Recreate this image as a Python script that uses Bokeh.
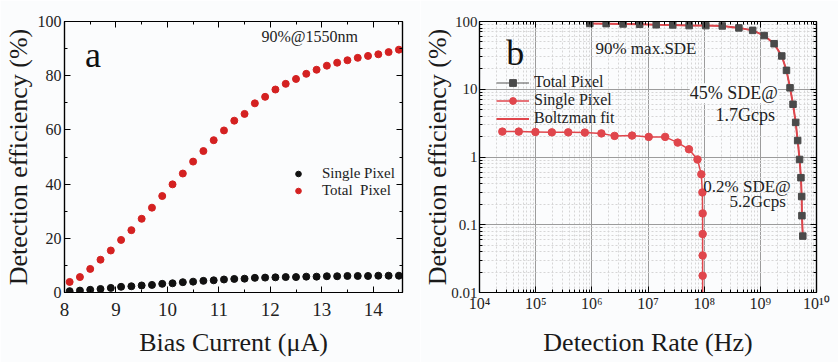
from bokeh.plotting import figure
from bokeh.layouts import row
from bokeh.models import (Range1d, LinearAxis, LogAxis, Label, Legend, LegendItem,
                          CustomJSTickFormatter, SingleIntervalTicker, FixedTicker)
from bokeh.embed import file_html
from bokeh.resources import INLINE

# ---------------- data: panel a ----------------
bias_current = [8.1, 8.3, 8.5, 8.7, 8.9, 9.1, 9.3, 9.5, 9.7, 9.9, 10.1, 10.3, 10.5, 10.7,
                10.9, 11.1, 11.3, 11.5, 11.7, 11.9, 12.1, 12.3, 12.5, 12.7, 12.9, 13.1,
                13.3, 13.5, 13.7, 13.9, 14.1, 14.3, 14.5]
total_pixel_de = [3.9, 5.7, 8.7, 12.1, 15.5, 19.4, 23.0, 27.2, 31.3, 35.6, 39.9, 43.9, 48.3,
                  52.2, 56.2, 59.8, 63.4, 65.9, 69.8, 72.2, 74.9, 77.0, 78.8, 80.7, 82.2,
                  83.7, 84.8, 85.7, 86.6, 87.3, 87.9, 88.7, 89.6]
single_pixel_de = [0.5, 0.7, 1.0, 1.3, 1.7, 2.1, 2.3, 2.6, 2.8, 3.2, 3.4, 3.8, 4.0, 4.3,
                   4.5, 4.8, 5.0, 5.1, 5.4, 5.5, 5.6, 5.7, 5.7, 5.85, 5.85, 6.0, 6.0, 6.1,
                   6.1, 6.1, 6.2, 6.2, 6.2]

# ---------------- data: panel b ----------------
total_rate = [9.2e5, 1.8e6, 3.6e6, 7.1e6, 1.4e7, 2.76e7, 5.4e7, 1.07e8, 2.1e8, 4.15e8,
              7.3e8, 1.17e9, 1.76e9, 2.41e9, 2.92e9, 3.38e9, 3.82e9, 4.26e9, 4.62e9,
              5.0e9, 5.28e9, 5.45e9, 5.5e9, 5.7e9]
total_de = [93.5, 93.0, 92.0, 91.0, 89.5, 89.0, 87.0, 87.0, 86.0, 80.5, 74.0, 62.0, 47.0,
            31.0, 19.0, 10.5, 6.0, 3.24, 1.75, 0.92, 0.495, 0.261, 0.136, 0.068]
single_rate = [2.55e4, 5.0e4, 9.9e4, 1.94e5, 3.8e5, 7.5e5, 1.48e6, 2.54e6, 5.2e6, 1.03e7,
               2.02e7, 3.38e7, 5.36e7, 7.6e7, 8.9e7, 9.3e7, 9.4e7, 9.4e7, 9.4e7, 9.4e7]
single_de = [2.37, 2.37, 2.34, 2.31, 2.31, 2.29, 2.23, 2.05, 2.07, 1.98, 1.98, 1.63, 1.30,
             0.92, 0.555, 0.30, 0.147, 0.073, 0.0352, 0.0177]
single_fit_rate = single_rate + [9.4e7]
single_fit_de = single_de + [0.005]

x_ticks_a = [8, 9, 10, 11, 12, 13, 14]
y_ticks_a = [0, 20, 40, 60, 80, 100]
x_ticks_b = [1e4, 1e5, 1e6, 1e7, 1e8, 1e9, 1e10]
y_ticks_b = [0.01, 0.1, 1, 10, 100]

FONT = "Liberation Serif"
BG = "#fbfcfd"
RED_A = "#d42121"
RED_B = "#e0464c"
SQ = "#4a4a4a"


def style_axis(ax, label_size):
    ax.axis_line_color = "black"
    ax.axis_line_width = 1.2
    ax.major_tick_in = 6
    ax.major_tick_out = 0
    ax.minor_tick_in = 3
    ax.minor_tick_out = 0
    ax.major_tick_line_color = "black"
    ax.minor_tick_line_color = "black"
    ax.major_label_text_font = FONT
    ax.major_label_text_font_size = label_size
    ax.major_label_text_color = "#222222"
    ax.axis_label_text_font = FONT
    ax.axis_label_text_font_style = "normal"
    ax.axis_label_text_font_size = "26px"
    ax.axis_label_text_color = "#1a1a1a"


blank = CustomJSTickFormatter(code="return '';")

# ================= panel a =================
p1 = figure(width=420, height=362, x_range=Range1d(8, 14.57), y_range=Range1d(0, 100),
            output_backend="svg", toolbar_location=None,
            min_border_left=64, min_border_right=18, min_border_top=19, min_border_bottom=70)
p1.background_fill_color = BG
p1.border_fill_color = BG
p1.outline_line_color = "black"
p1.outline_line_width = 1.2
p1.grid.visible = False

xt1 = SingleIntervalTicker(interval=1, num_minor_ticks=2)
yt1 = SingleIntervalTicker(interval=20, num_minor_ticks=2)
p1.xaxis.ticker = xt1
p1.yaxis.ticker = yt1
style_axis(p1.xaxis[0], "19px")
style_axis(p1.yaxis[0], "16px")
p1.xaxis.axis_label = "Bias Current (μA)"
p1.yaxis.axis_label = "Detection efficiency (%)"
p1.xaxis.major_label_standoff = 10
p1.yaxis.major_label_standoff = 3
p1.xaxis.axis_label_standoff = 9
p1.yaxis.axis_label_standoff = 2

top1 = LinearAxis(ticker=xt1, formatter=blank)
right1 = LinearAxis(ticker=yt1, formatter=blank)
style_axis(top1, "1px")
style_axis(right1, "1px")
top1.major_label_standoff = 0
right1.major_label_standoff = 0
p1.add_layout(top1, "above")
p1.add_layout(right1, "right")

r_single = p1.scatter(bias_current, single_pixel_de, size=7, color="#111111")
r_total = p1.scatter(bias_current, total_pixel_de, size=7, color=RED_A)

leg1 = Legend(items=[LegendItem(label="Single Pixel", renderers=[r_single]),
                     LegendItem(label="Total  Pixel", renderers=[r_total])],
              location=(227, 93), padding=0, margin=0, spacing=0,
              glyph_width=14, glyph_height=17, label_height=17, label_standoff=17,
              label_text_font=FONT, label_text_font_size="15px",
              label_text_color="#222222",
              border_line_color=None, background_fill_alpha=0)
p1.add_layout(leg1)

p1.add_layout(Label(x=8.4, y=87.5, text="a", text_font=FONT, text_font_size="36px",
                    text_color="#111111", text_baseline="alphabetic"))
p1.add_layout(Label(x=11.83, y=94.6, text="90%@1550nm", text_font=FONT,
                    text_font_size="16px", text_color="#222222",
                    text_baseline="alphabetic"))

# ================= panel b =================
p2 = figure(width=418, height=362, x_axis_type="log", y_axis_type="log",
            x_range=Range1d(1e4, 1e10), y_range=Range1d(0.01, 100),
            output_backend="svg", toolbar_location=None,
            min_border_left=56, min_border_right=22, min_border_top=21, min_border_bottom=68)
p2.background_fill_color = BG
p2.border_fill_color = BG
p2.outline_line_color = "black"
p2.outline_line_width = 1.2

x_minor = [m * d for d in x_ticks_b[:-1] for m in range(2, 10)]
y_minor = [m * d for d in y_ticks_b[:-1] for m in range(2, 10)]
xt2 = FixedTicker(ticks=x_ticks_b, minor_ticks=x_minor)
yt2 = FixedTicker(ticks=y_ticks_b, minor_ticks=y_minor)
p2.xaxis.ticker = xt2
p2.yaxis.ticker = yt2
style_axis(p2.xaxis[0], "16px")
style_axis(p2.yaxis[0], "15px")
p2.xaxis.formatter = CustomJSTickFormatter(code="""
const sup = {'0':'\u2070','1':'\u00b9','2':'\u00b2','3':'\u00b3','4':'\u2074','5':'\u2075',
             '6':'\u2076','7':'\u2077','8':'\u2078','9':'\u2079','-':'\u207b'};
const e = Math.round(Math.log10(tick));
return '10' + String(e).split('').map(c => sup[c]).join('');
""")
p2.yaxis.formatter = CustomJSTickFormatter(code="""
return tick < 1 ? tick.toString() : tick.toFixed(0);
""")
p2.xaxis.axis_label = "Detection Rate (Hz)"
p2.yaxis.axis_label = "Detection efficiency (%)"
p2.xaxis.major_label_standoff = 2
p2.yaxis.major_label_standoff = 2
p2.xaxis.axis_label_standoff = 13
p2.yaxis.axis_label_standoff = -4

top2 = LogAxis(ticker=xt2, formatter=blank)
right2 = LogAxis(ticker=yt2, formatter=blank)
style_axis(top2, "1px")
style_axis(right2, "1px")
top2.major_label_standoff = 0
right2.major_label_standoff = 0
p2.add_layout(top2, "above")
p2.add_layout(right2, "right")

p2.grid.grid_line_color = "#9c9c9c"
p2.grid.grid_line_width = 1
p2.grid.minor_grid_line_color = "#d6d6d6"
p2.grid.minor_grid_line_dash = "2 2"

r_tot_line = p2.line(total_rate, total_de, line_color="#555555", line_width=1.2)
r_fit = p2.line(total_rate, total_de, line_color=RED_B, line_width=2)
r_sgl_line = p2.line(single_fit_rate, single_fit_de, line_color=RED_B, line_width=1.5)
r_tot_pts = p2.scatter(total_rate, total_de, marker="square", size=6.5, color=SQ)
r_sgl_pts = p2.scatter(single_rate, single_de, marker="circle", size=7.5, color=RED_B)

leg2 = Legend(items=[LegendItem(label="Total Pixel", renderers=[r_tot_line, r_tot_pts]),
                     LegendItem(label="Single Pixel", renderers=[r_sgl_line, r_sgl_pts]),
                     LegendItem(label="Boltzman fit", renderers=[r_fit])],
              location=(17, 165), padding=0, margin=0, spacing=0,
              glyph_width=33, glyph_height=17, label_height=17, label_standoff=5,
              label_text_font=FONT, label_text_font_size="16px",
              label_text_line_height=1.0,
              label_text_color="#222222",
              border_line_color=None, background_fill_alpha=0)
p2.add_layout(leg2)

p2.add_layout(Label(x=3.0e4, y=34, text="b", text_font=FONT, text_font_size="36px",
                    text_color="#111111", text_baseline="alphabetic"))
p2.add_layout(Label(x=1.16e6, y=40, text="90% max.SDE", text_font=FONT,
                    text_font_size="17px", text_color="#222222", text_baseline="alphabetic"))
p2.add_layout(Label(x=10 ** 9.311, y=10 ** 0.94, text="45% SDE@", text_font=FONT,
                    text_font_size="18px", text_color="#222222", text_align="right",
                    text_baseline="alphabetic", background_fill_color=BG))
p2.add_layout(Label(x=10 ** 9.259, y=10 ** 0.62, text="1.7Gcps", text_font=FONT,
                    text_font_size="18px", text_color="#222222", text_align="right",
                    text_baseline="alphabetic"))
p2.add_layout(Label(x=10 ** 9.541, y=10 ** -0.43, text="0.2% SDE@", text_font=FONT,
                    text_font_size="17px", text_color="#222222", text_align="right",
                    text_baseline="alphabetic"))
p2.add_layout(Label(x=10 ** 9.453, y=10 ** -0.65, text="5.2Gcps", text_font=FONT,
                    text_font_size="17px", text_color="#222222", text_align="right",
                    text_baseline="alphabetic"))

layout = row(p1, p2, spacing=0)
open("out.html", "w").write(file_html(layout, INLINE))
